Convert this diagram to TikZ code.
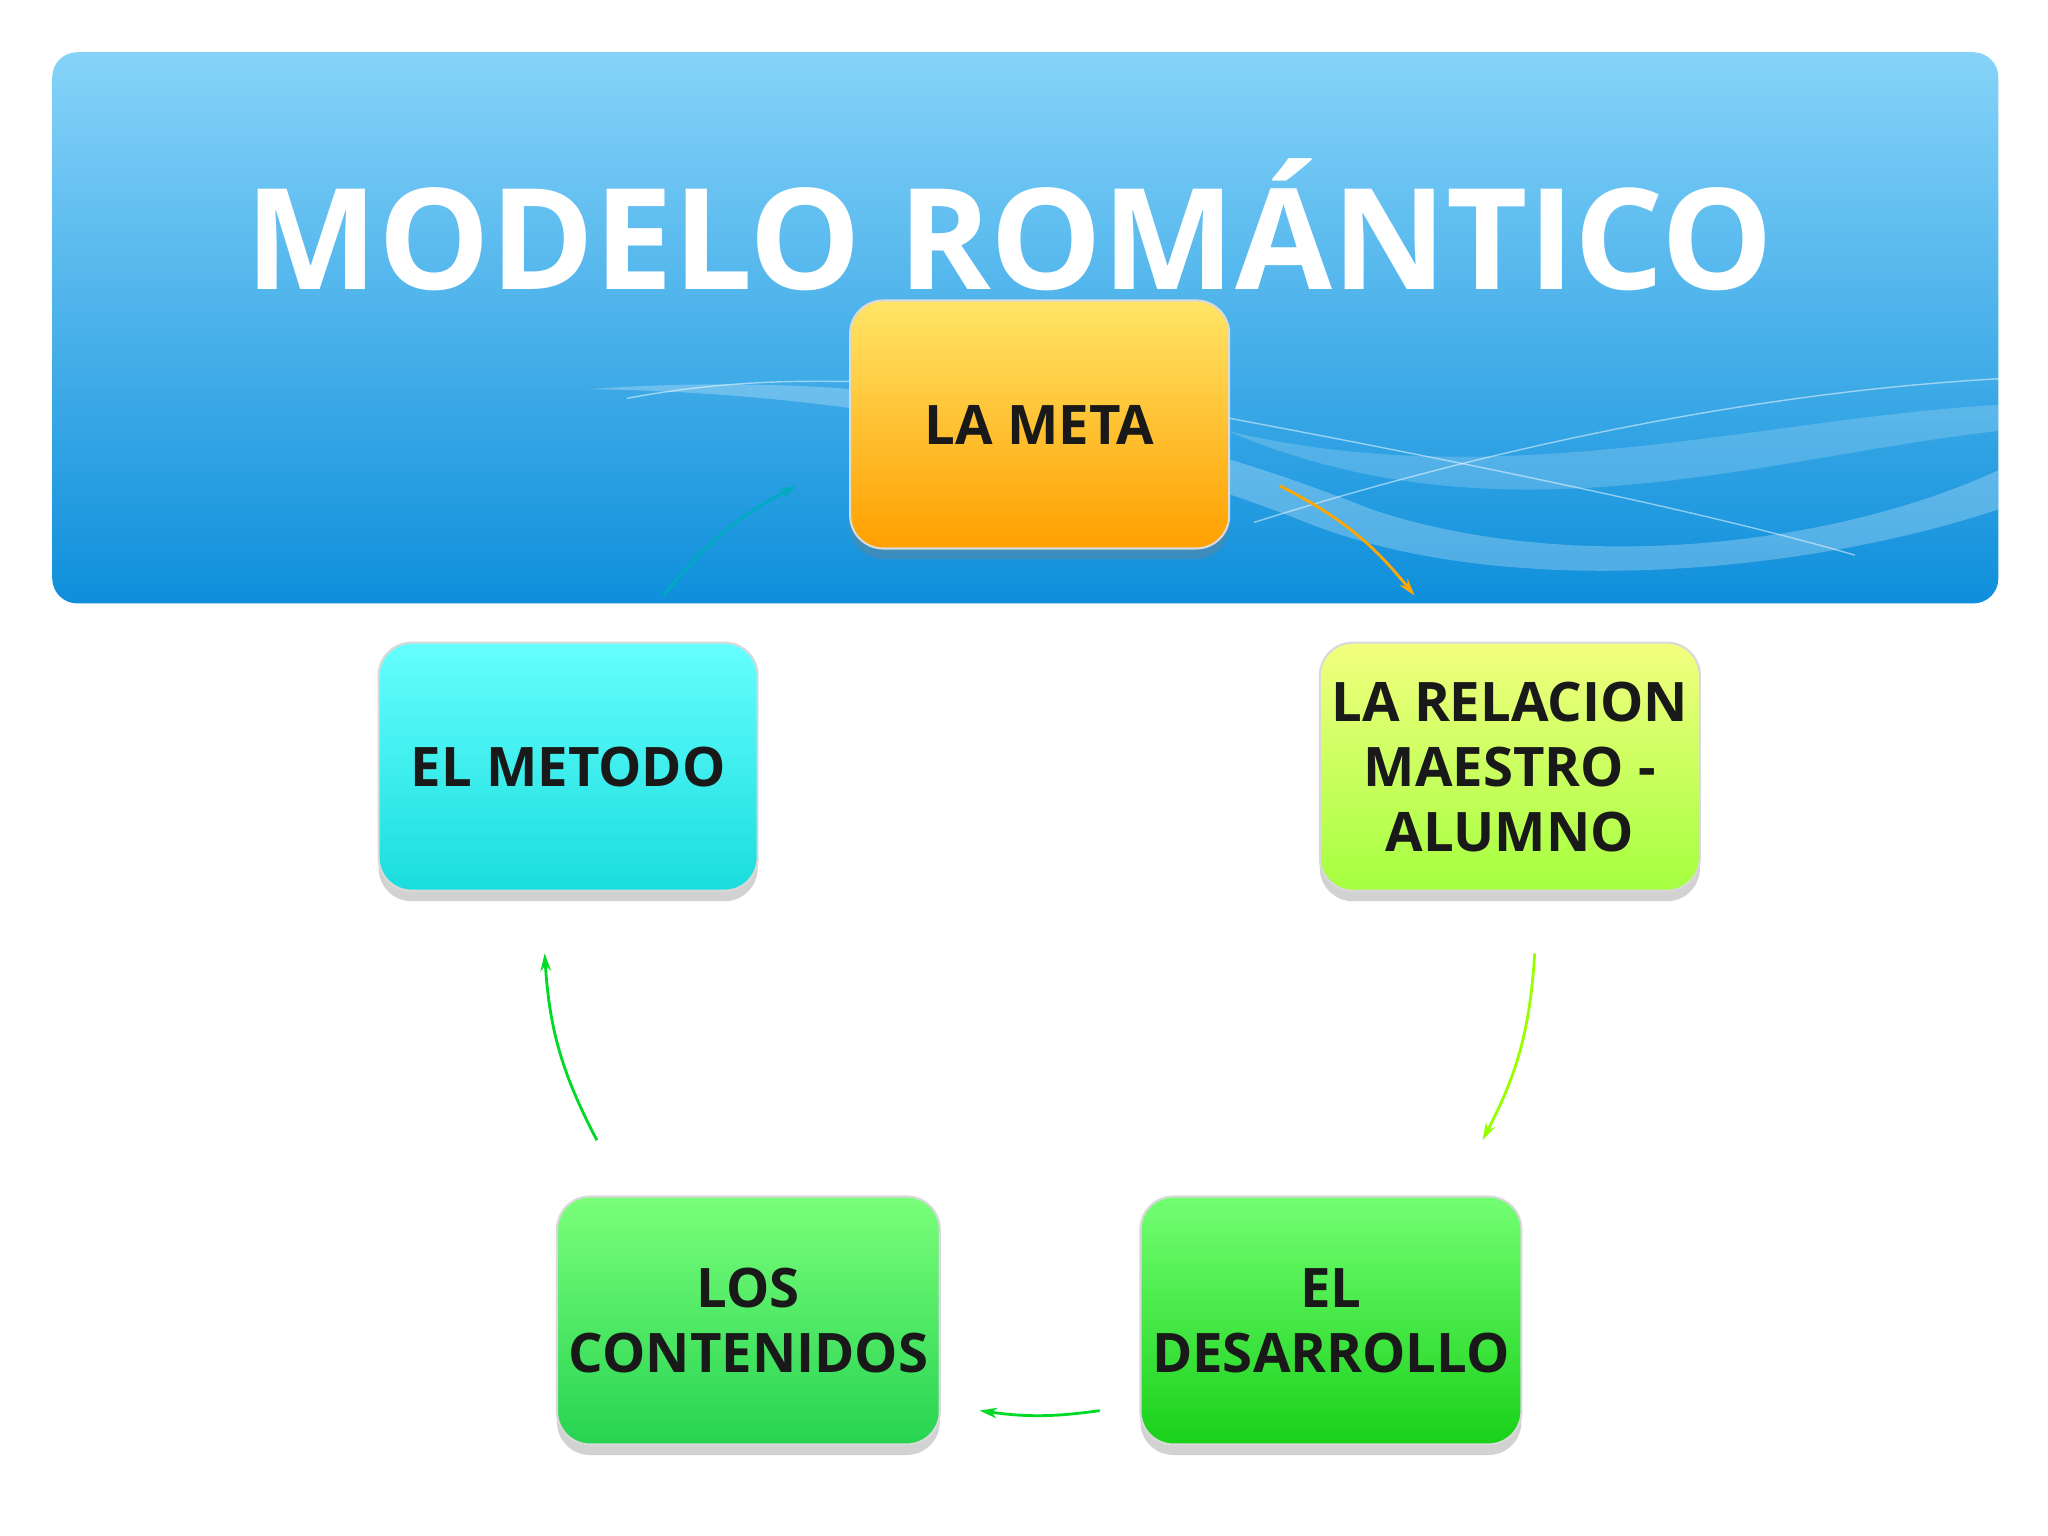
\documentclass[tikz,border=0pt]{standalone}
\usepackage{fontspec}
\setmainfont{Open Sans}
\usetikzlibrary{shadows,arrows.meta}
\definecolor{bTop}{HTML}{86D3F9}
\definecolor{bBot}{HTML}{0E8FDB}
\begin{document}
\begin{tikzpicture}[x=0.01306cm,y=-0.01306cm,
  box/.style={rounded corners=0.33cm,minimum width=3.79cm,minimum height=2.48cm,draw=white!85!black,line width=0.6pt,
    align=center,font=\fontsize{15.5}{18.5}\selectfont\bfseries,text=black!90,
    drop shadow={shadow xshift=0pt,shadow yshift=-3pt,opacity=0.35}},
  arr/.style={-{Stealth[length=5pt,width=3pt]},line width=0.8pt}]
\useasboundingbox (0,0) rectangle (1568,1176);
\fill[white] (0,0) rectangle (1568,1176);
\shade[top color=bTop,bottom color=bBot,rounded corners=0.25cm] (40,40) rectangle (1530,462);
\begin{scope}
\clip[rounded corners=0.25cm] (40,40) rectangle (1530,462);
\fill[white,opacity=0.25] (450,298) .. controls (700,280) and (900,330) .. (1050,390) .. controls (1200,440) and (1400,420) .. (1530,360) -- (1530,390) .. controls (1380,440) and (1150,460) .. (1000,400) .. controls (850,340) and (650,300) .. (450,298);
\fill[white,opacity=0.18] (940,330) .. controls (1150,380) and (1350,320) .. (1530,310) -- (1530,330) .. controls (1350,350) and (1150,420) .. (940,330);
\draw[white,opacity=0.5] (480,305) .. controls (560,290) and (620,292) .. (650,292);
\draw[white,opacity=0.5] (960,400) .. controls (1150,340) and (1350,300) .. (1530,290);
\draw[white,opacity=0.5] (940,320) .. controls (1100,350) and (1300,390) .. (1420,425);
\end{scope}
\node[text=white,font=\fontsize{40}{44}\selectfont\bfseries] (title) at (773,172) {MODELO ROMÁNTICO};
\node[box,top color=orange!35!yellow!60,bottom color=orange!75!yellow] (meta) at (796,325) {LA META};
\node[box,top color=cyan!60,bottom color=cyan!70!teal!90] (metodo) at (435,587) {EL METODO};
\node[box,top color=lime!40!yellow!50,bottom color=lime!70!green!75] (rel) at (1156,587) {LA RELACION\\MAESTRO -\\ALUMNO};
\node[box,top color=green!55!white!95,bottom color=green!60!teal!85] (cont) at (573,1011) {LOS\\CONTENIDOS};
\node[box,top color=green!55!white,bottom color=green!80!black!90] (des) at (1019,1011) {EL\\DESARROLLO};
\coordinate (a1) at (508,456); \coordinate (a2) at (610,372);
\coordinate (b1) at (980,372); \coordinate (b2) at (1083,456);
\coordinate (c1) at (1175,730); \coordinate (c2) at (1135,873);
\coordinate (d1) at (842,1080); \coordinate (d2) at (750,1080);
\coordinate (e1) at (457,873); \coordinate (e2) at (417,730);
\draw[arr,color=cyan!70!green] (a1) to[bend left=12] (a2);
\draw[arr,color=orange!70!yellow] (b1) to[bend left=12] (b2);
\draw[arr,color=lime!80!green] (c1) to[bend left=12] (c2);
\draw[arr,color=green!70!teal] (d1) to[bend left=8] (d2);
\draw[arr,color=green!70!teal] (e1) to[bend left=12] (e2);
\end{tikzpicture}
\end{document}
